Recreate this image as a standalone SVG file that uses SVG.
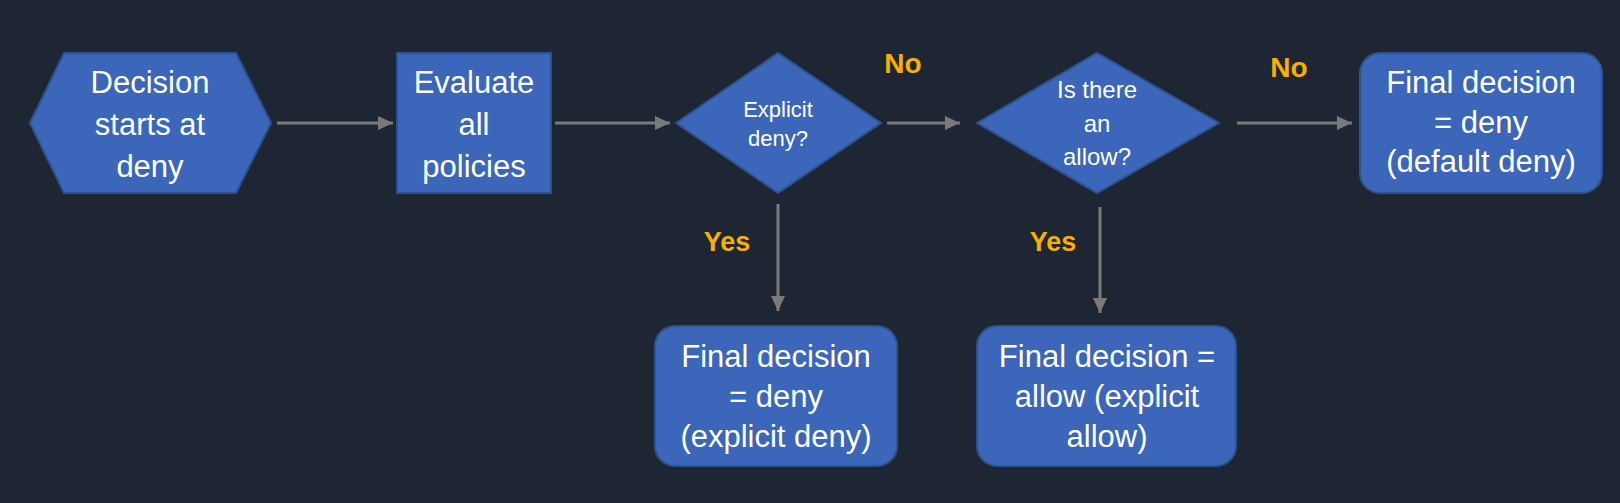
<svg xmlns="http://www.w3.org/2000/svg" width="1620" height="503" viewBox="0 0 1620 503">
<defs>
<style>
.node{fill:#3b66b9;stroke:#2d5291;stroke-width:2}
.t{font-family:"Liberation Sans",Arial,sans-serif;fill:#ffffff;text-anchor:middle}
.big{font-size:31px}
.lbl{font-family:"Liberation Sans",Arial,sans-serif;font-weight:bold;fill:#f7b000;text-anchor:middle;font-size:28px}
.yes{font-size:27px}
.conn{stroke:#7a7a7a;stroke-width:3;fill:none;marker-end:url(#arr)}
</style>
<marker id="arr" viewBox="0 0 15 14" refX="15" refY="7" markerWidth="15" markerHeight="14" markerUnits="userSpaceOnUse" orient="auto">
<path d="M0,0 L15,7 L0,14 z" fill="#7a7a7a"/>
</marker>
</defs>
<rect width="1620" height="503" fill="#1f2633"/>
<g id="connectors">
<line class="conn" x1="277" y1="123" x2="393" y2="123"/>
<line class="conn" x1="555" y1="123" x2="670" y2="123"/>
<line class="conn" x1="887" y1="123" x2="960" y2="123"/>
<line class="conn" x1="1237" y1="123" x2="1352" y2="123"/>
<line class="conn" x1="778" y1="204" x2="778" y2="311"/>
<line class="conn" x1="1100" y1="207" x2="1100" y2="313"/>
<text class="lbl" x="903" y="73">No</text>
<text class="lbl" x="1289" y="77">No</text>
<text class="lbl yes" x="727" y="251">Yes</text>
<text class="lbl yes" x="1053" y="251">Yes</text>
</g>
<g id="start">
<polygon class="node" points="30,123 64,53 236,53 271,123 236,193 64,193"/>
<text class="t big" x="150" y="93">Decision</text>
<text class="t big" x="150" y="135">starts at</text>
<text class="t big" x="150" y="177">deny</text>
</g>
<g id="evaluate">
<rect class="node" x="397" y="53" width="154" height="140"/>
<text class="t big" x="474" y="93">Evaluate</text>
<text class="t big" x="474" y="135">all</text>
<text class="t big" x="474" y="177">policies</text>
</g>
<g id="explicit-deny">
<polygon class="node" points="676,123 778,53 881,123 778,193"/>
<text class="t" style="font-size:22px" x="778" y="117">Explicit</text>
<text class="t" style="font-size:22px" x="778" y="146">deny?</text>
</g>
<g id="is-allow">
<polygon class="node" points="977,123 1097,53 1219,123 1097,193"/>
<text class="t" style="font-size:24px" x="1097" y="98">Is there</text>
<text class="t" style="font-size:24px" x="1097" y="132">an</text>
<text class="t" style="font-size:24px" x="1097" y="165">allow?</text>
</g>
<g id="default-deny">
<rect class="node" x="1360" y="53" width="242" height="140" rx="20"/>
<text class="t big" x="1481" y="93">Final decision</text>
<text class="t big" x="1481" y="133">= deny</text>
<text class="t big" x="1481" y="172">(default deny)</text>
</g>
<g id="explicit-deny-result">
<rect class="node" x="655" y="326" width="242" height="140" rx="20"/>
<text class="t big" x="776" y="367">Final decision</text>
<text class="t big" x="776" y="407">= deny</text>
<text class="t big" x="776" y="447">(explicit deny)</text>
</g>
<g id="explicit-allow-result">
<rect class="node" x="977" y="326" width="259" height="140" rx="20"/>
<text class="t big" x="1107" y="367">Final decision =</text>
<text class="t big" x="1107" y="407">allow (explicit</text>
<text class="t big" x="1107" y="447">allow)</text>
</g>
</svg>
